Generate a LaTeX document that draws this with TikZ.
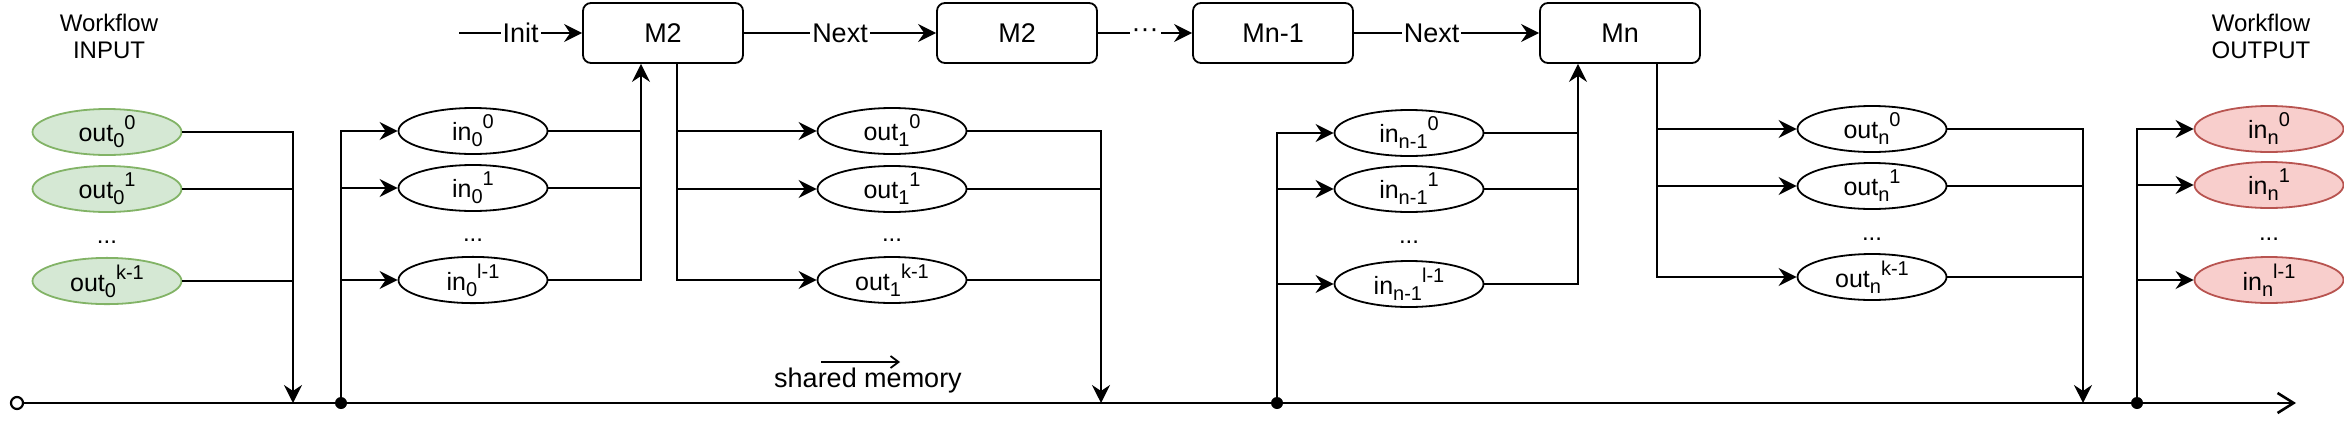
\documentclass[tikz,border=0pt]{standalone}
\usepackage{fontspec}
\setmainfont{Liberation Sans}
\usetikzlibrary{arrows.meta,shapes.geometric,calc}
\definecolor{gfill}{HTML}{D5E8D4}
\definecolor{gdraw}{HTML}{82B366}
\definecolor{rfill}{HTML}{F8CECC}
\definecolor{rdraw}{HTML}{B85450}
\newcommand\elab[3]{#1\raisebox{-3pt}{\fontsize{10}{11}\selectfont #2}\raisebox{6pt}{\fontsize{10}{11}\selectfont #3}}
\begin{document}
\begin{tikzpicture}[x=0.5pt,y=-0.5pt,
  line width=1.1pt,
  arr/.style={-{Stealth[length=9pt,width=9pt,inset=3pt]}},
  varnode/.style={ellipse,draw,line width=0.9pt,minimum width=74.5pt,minimum height=23pt,inner sep=0pt,font=\fontsize{12.5}{14}\selectfont},
  innode/.style={varnode,fill=gfill,draw=gdraw},
  outnode/.style={varnode,fill=rfill,draw=rdraw},
  modbox/.style={draw,line width=0.9pt,rounded corners=4pt,minimum width=80pt,minimum height=30pt,inner sep=0pt,font=\fontsize{13.5}{15}\selectfont},
  elabel/.style={fill=white,inner sep=1pt,font=\fontsize{13.5}{15}\selectfont},
  vdots/.style={anchor=base,font=\fontsize{12}{14}\selectfont,inner sep=0pt},
  titletext/.style={align=center,font=\fontsize{12}{13.5}\selectfont},
  fdot/.style={circle,fill,inner sep=0pt,minimum size=6pt},
  odot/.style={circle,draw,fill=white,inner sep=0pt,minimum size=6pt},
]
\useasboundingbox (0,0) rectangle (2344,424);

% titles
\node[titletext] (wi) at (109,36) {Workflow\\INPUT};
\node[titletext] (wo) at (2261,36) {Workflow\\OUTPUT};

% bus
\node[odot] (start) at (17,403) {};
\coordinate (busend) at (2296,403);
\draw[line width=1.3pt,-{Straight Barb[length=8pt,width=10pt]}] (start.east) -- (busend);

% shared memory
\node[font=\fontsize{13.5}{15}\selectfont] (sm) at (868,381) {shared memory};
\draw[line width=0.9pt,-{Straight Barb[length=4pt,width=6pt]}] ($(sm.center)+(-47,-19)$) -- ($(sm.center)+(32,-19)$);

% modules
\coordinate (initS) at (459,33);
\node[modbox] (M2) at (663,33) {M2};
\node[modbox] (M2b) at (1017,33) {M2};
\node[modbox] (Mn1) at (1273,33) {Mn-1};
\node[modbox] (Mn) at (1620,33) {Mn};
\draw[arr] (initS) -- node[elabel]{Init} (M2.west);
\draw[arr] (M2) -- node[elabel]{Next} (M2b);
\draw[arr] (M2b) -- node[elabel]{···} (Mn1);
\draw[arr] (Mn1) -- node[elabel,pos=0.42]{Next} (Mn);

% workflow input
\node[innode] (a0) at (107,132) {\elab{out}{0}{0}};
\node[innode] (a1) at (107,189) {\elab{out}{0}{1}};
\node[vdots] (ad) at (107,243) {...};
\node[innode] (a2) at (107,281) {\elab{out}{0}{k-1}};
\coordinate (jA) at (293,403);
\draw[arr] (a0.east) -| (jA);
\draw (a1.east) -- (a1.east -| jA);
\draw (a2.east) -- (a2.east -| jA);

% inputs of M2
\node[fdot] (dB) at (341,403) {};
\node[varnode] (b0) at (473,131) {\elab{in}{0}{0}};
\node[varnode] (b1) at (473,188) {\elab{in}{0}{1}};
\node[vdots] (bd) at (473,241) {...};
\node[varnode] (b2) at (473,280) {\elab{in}{0}{l-1}};
\draw[arr] (dB.center) |- (b0.west);
\draw[arr] (dB.center |- b1.west) -- (b1.west);
\draw[arr] (dB.center |- b2.west) -- (b2.west);
\coordinate (m2in) at ($(M2.south)+(-22,0)$);
\draw[arr] (b2.east) -| (m2in);
\draw (b0.east) -- (b0.east -| m2in);
\draw (b1.east) -- (b1.east -| m2in);

% outputs of M2
\coordinate (m2out) at ($(M2.south)+(14,0)$);
\node[varnode] (c0) at (892,131) {\elab{out}{1}{0}};
\node[varnode] (c1) at (892,189) {\elab{out}{1}{1}};
\node[vdots] (cd) at (892,241) {...};
\node[varnode] (c2) at (892,280) {\elab{out}{1}{k-1}};
\draw[arr] (m2out) |- (c2.west);
\draw[arr] (m2out |- c0.west) -- (c0.west);
\draw[arr] (m2out |- c1.west) -- (c1.west);
\coordinate (jC) at (1101,403);
\draw[arr] (c0.east) -| (jC);
\draw (c1.east) -- (c1.east -| jC);
\draw (c2.east) -- (c2.east -| jC);

% inputs of Mn
\node[fdot] (dD) at (1277,403) {};
\node[varnode] (d0) at (1409,133) {\elab{in}{n-1}{0}};
\node[varnode] (d1) at (1409,189) {\elab{in}{n-1}{1}};
\node[vdots] (dd) at (1409,243) {...};
\node[varnode] (d2) at (1409,284) {\elab{in}{n-1}{l-1}};
\draw[arr] (dD.center) |- (d0.west);
\draw[arr] (dD.center |- d1.west) -- (d1.west);
\draw[arr] (dD.center |- d2.west) -- (d2.west);
\coordinate (mnin) at ($(Mn.south)+(-42,0)$);
\draw[arr] (d2.east) -| (mnin);
\draw (d0.east) -- (d0.east -| mnin);
\draw (d1.east) -- (d1.east -| mnin);

% outputs of Mn
\coordinate (mnout) at ($(Mn.south)+(37,0)$);
\node[varnode] (e0) at (1872,129) {\elab{out}{n}{0}};
\node[varnode] (e1) at (1872,186) {\elab{out}{n}{1}};
\node[vdots] (ed) at (1872,240) {...};
\node[varnode] (e2) at (1872,277) {\elab{out}{n}{k-1}};
\draw[arr] (mnout) |- (e2.west);
\draw[arr] (mnout |- e0.west) -- (e0.west);
\draw[arr] (mnout |- e1.west) -- (e1.west);
\coordinate (jE) at (2083,403);
\draw[arr] (e0.east) -| (jE);
\draw (e1.east) -- (e1.east -| jE);
\draw (e2.east) -- (e2.east -| jE);

% workflow output
\node[fdot] (dF) at (2137,403) {};
\node[outnode] (f0) at (2269,129) {\elab{in}{n}{0}};
\node[outnode] (f1) at (2269,185) {\elab{in}{n}{1}};
\node[vdots] (fd) at (2269,240) {...};
\node[outnode] (f2) at (2269,280) {\elab{in}{n}{l-1}};
\draw[arr] (dF.center) |- (f0.west);
\draw[arr] (dF.center |- f1.west) -- (f1.west);
\draw[arr] (dF.center |- f2.west) -- (f2.west);
\end{tikzpicture}
\end{document}
